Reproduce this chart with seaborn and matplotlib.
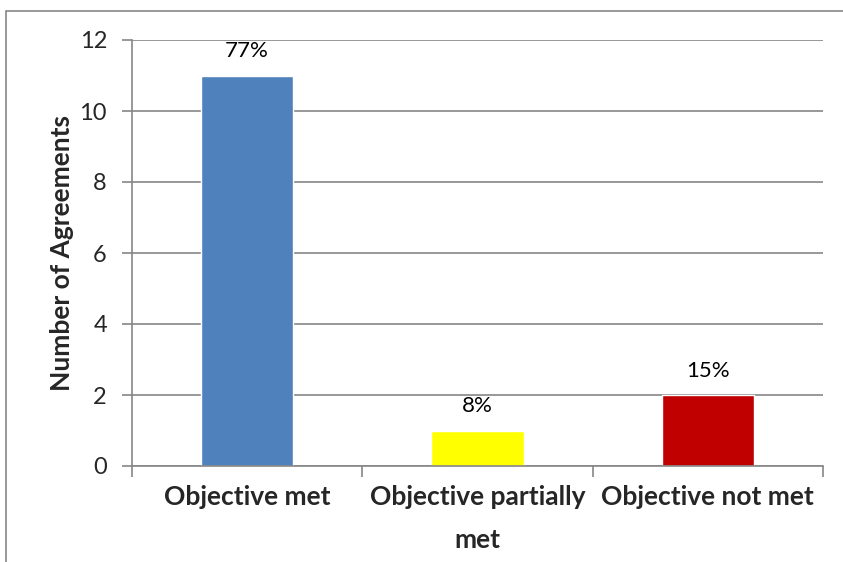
import matplotlib
matplotlib.use('Agg')
import matplotlib.pyplot as plt
import seaborn as sns
import pandas as pd
from matplotlib.patches import Rectangle

# Data
categories = ['Objective met', 'Objective partially\nmet', 'Objective not met']
agreements = [11, 1, 2]
pct_labels = ['77%', '8%', '15%']
bar_colors = ['#4F81BD', '#FFFF00', '#C00000']

df = pd.DataFrame({'category': categories, 'count': agreements})

sns.set_style('white')
plt.rcParams['font.family'] = ['Lato', 'DejaVu Sans']

fig = plt.figure(figsize=(8.43, 5.62), dpi=100)
ax = fig.add_axes([132 / 843, 1 - 466 / 562, (823 - 132) / 843, (466 - 40) / 562])

sns.barplot(data=df, x='category', y='count', hue='category', palette=bar_colors,
            width=0.4, saturation=1, legend=False, ax=ax)

for i, (v, lab) in enumerate(zip(agreements, pct_labels)):
    ax.text(i, v + 0.4, lab, ha='center', va='bottom', fontsize=16, color='black')

grid_c = '#868686'
ax.set_ylim(0, 12)
ax.set_yticks(range(0, 13, 2))
ax.set_xlim(-0.5, 2.5)
ax.yaxis.grid(True, color=grid_c, linewidth=1.2)
ax.set_axisbelow(True)

for s in ['top', 'right']:
    ax.spines[s].set_visible(False)
for s in ['left', 'bottom']:
    ax.spines[s].set_color(grid_c)
    ax.spines[s].set_linewidth(1.2)

# x tick marks sit between categories
ax.set_xticks([-0.5, 0.5, 1.5, 2.5], minor=True)
ax.tick_params(axis='x', which='minor', length=8, color=grid_c, width=1.2, bottom=True)
ax.tick_params(axis='x', which='major', length=0, pad=14, labelsize=19)
ax.tick_params(axis='y', length=7, color=grid_c, width=1.2, left=True, labelsize=17, pad=11)
for t in ax.get_xticklabels():
    t.set_fontweight('bold')
    t.set_linespacing(1.95)

ax.set_xlabel('')
ax.set_ylabel('Number of Agreements', fontsize=19, fontweight='bold', labelpad=4)

# outer chart border
fig.patches.append(Rectangle((6 / 843, -0.1), 1.2, 1 - 11 / 562 + 0.1,
                             transform=fig.transFigure, fill=False,
                             edgecolor=grid_c, linewidth=1.2))

fig.savefig('out.png', dpi=100)
